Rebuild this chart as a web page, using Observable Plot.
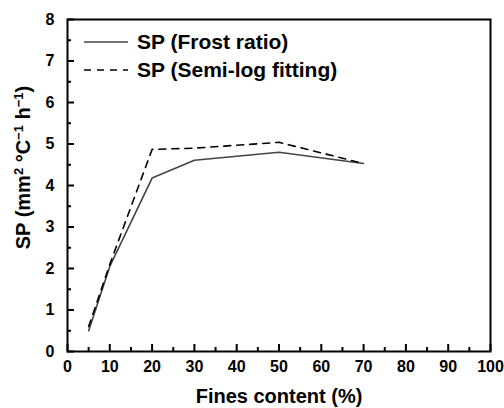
<!DOCTYPE html>
<html>
<head>
<meta charset="utf-8">
<script src="https://cdn.jsdelivr.net/npm/d3@7"></script>
<script src="https://cdn.jsdelivr.net/npm/@observablehq/plot@0.6"></script>
<style>
  html, body { margin: 0; padding: 0; background: #fff; }
  #wrap { position: relative; width: 504px; height: 408px; }
  #legend { position: absolute; left: 0; top: 0; }
  svg text { font-weight: bold; font-family: 'Liberation Sans', Arial, sans-serif; }
</style>
</head>
<body>
<div id="wrap"></div>
<script>
// Data
const fines = [5, 10, 20, 30, 50, 70];
const spFrost = [0.5, 2.05, 4.18, 4.61, 4.8, 4.53];
const spSemiLog = [0.6, 2.1, 4.87, 4.9, 5.04, 4.53];
const seriesNames = ["SP (Frost ratio)", "SP (Semi-log fitting)"];
const xTicks = [0, 10, 20, 30, 40, 50, 60, 70, 80, 90, 100];
const xMinor = [5, 15, 25, 35, 45, 55, 65, 75, 85, 95];
const yTicks = [0, 1, 2, 3, 4, 5, 6, 7, 8];
const yMinor = [0.5, 1.5, 2.5, 3.5, 4.5, 5.5, 6.5, 7.5];
const xTitle = "Fines content (%)";
// y title parts: [text, superscript?]
const yTitleParts = [["SP (mm", false], ["2", true], [" °C", false], ["−1", true], [" h", false], ["−1", true], [")", false]];

const rows = [];
fines.forEach((f, i) => {
  rows.push({x: f, y: spFrost[i], s: seriesNames[0]});
  rows.push({x: f, y: spSemiLog[i], s: seriesNames[1]});
});

const FONT = "'Liberation Sans', Arial, Helvetica, sans-serif";
const W = 504, H = 408, ML = 67, MR = 14, MT = 19, MB = 57;

const chart = Plot.plot({
  width: W,
  height: H,
  marginLeft: ML,
  marginRight: MR,
  marginTop: MT,
  marginBottom: MB,
  style: {fontFamily: FONT, fontWeight: "bold", fontSize: "16px", color: "#000", background: "#fff"},
  x: {domain: [0, 100]},
  y: {domain: [0, 8]},
  marks: [
    Plot.line(rows.filter(d => d.s === seriesNames[0]), {x: "x", y: "y", stroke: "#444", strokeWidth: 1.6}),
    Plot.line(rows.filter(d => d.s === seriesNames[1]), {x: "x", y: "y", stroke: "#000", strokeWidth: 1.6, strokeDasharray: "7,6"}),
    // tick labels
    Plot.axisX(xTicks, {tickSize: 0, tickPadding: 9, fontSize: 16, fontWeight: "bold", label: null}),
    Plot.axisY(yTicks, {tickSize: 0, tickPadding: 13, fontSize: 16, fontWeight: "bold", label: null}),
    Plot.frame({stroke: "#000", strokeWidth: 2}),
    // inward tick marks
    Plot.axisX(xTicks, {tickSize: -7, tickPadding: 0, fontSize: 0, fill: "none", label: null, stroke: "#000", strokeWidth: 2}),
    Plot.axisX(xMinor, {tickSize: -4, tickPadding: 0, fontSize: 0, fill: "none", label: null, stroke: "#000", strokeWidth: 2}),
    Plot.axisY(yTicks, {tickSize: -7, tickPadding: 0, fontSize: 0, fill: "none", label: null, stroke: "#000", strokeWidth: 2}),
    Plot.axisY(yMinor, {tickSize: -4, tickPadding: 0, fontSize: 0, fill: "none", label: null, stroke: "#000", strokeWidth: 2}),
    // axis titles
    Plot.text([xTitle], {frameAnchor: "bottom", dy: 51, fontSize: 20, fontWeight: "bold", fill: "#000"}),
    Plot.text([yTitleParts.map(p => p[0]).join("")], {frameAnchor: "left", textAnchor: "middle", dx: -44, dy: -18, rotate: -90, fontSize: 20, fontWeight: "bold", fill: "#000", className: "ytitle"})
  ]
});

// Turn the y title into text with real superscripts
const yt = chart.querySelector(".ytitle text");
if (yt) {
  yt.textContent = "";
  yTitleParts.forEach(([t, sup]) => {
    const ts = document.createElementNS("http://www.w3.org/2000/svg", "tspan");
    ts.textContent = t;
    if (sup) {
      ts.setAttribute("font-size", "13");
      ts.setAttribute("dy", "-7");
    } else {
      ts.setAttribute("dy", "7");
    }
    yt.appendChild(ts);
  });
  yt.firstChild.setAttribute("dy", "0");
}

const wrap = document.getElementById("wrap");
wrap.appendChild(chart);

// Legend overlay
const legend = d3.create("svg")
  .attr("id", "legend")
  .attr("width", W)
  .attr("height", H)
  .style("font-family", FONT)
  .style("font-weight", "bold")
  .style("font-size", "21px");
const styles = [{stroke: "#444", dash: null}, {stroke: "#000", dash: "7,6"}];
seriesNames.forEach((name, i) => {
  const yy = 42 + i * 28;
  legend.append("line")
    .attr("x1", 84).attr("x2", 128).attr("y1", yy).attr("y2", yy)
    .attr("stroke", styles[i].stroke).attr("stroke-width", 1.6)
    .attr("stroke-dasharray", styles[i].dash);
  legend.append("text")
    .attr("x", 137).attr("y", yy).attr("dy", "0.35em")
    .attr("fill", "#000").text(name);
});
wrap.appendChild(legend.node());
</script>
</body>
</html>
